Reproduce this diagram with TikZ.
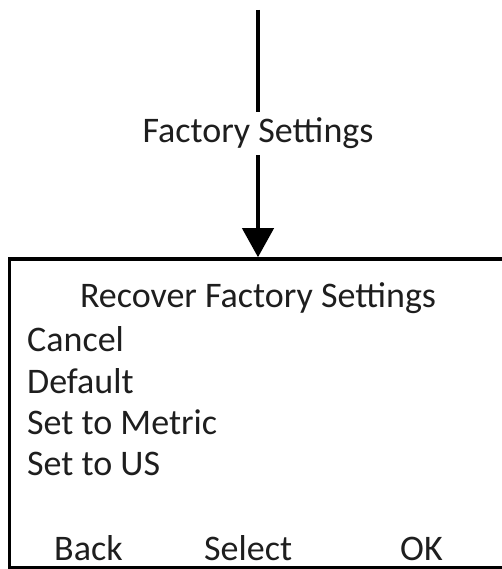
\documentclass[tikz,border=0pt]{standalone}
\usepackage{fontspec}
\setmainfont{Carlito}
\usepackage{tikz}
\usetikzlibrary{positioning,arrows.meta}
\definecolor{ink}{HTML}{1E1E1E}
\tikzset{
  every node/.style={font=\fontsize{36}{42}\selectfont, text=ink},
  % --- nodes
  screen/.style = {draw=black, line width=3.5pt, minimum width=497pt,
                   minimum height=309pt, inner sep=0pt},
  vlabel/.style = {fill=white, inner sep=6pt},
  item/.style   = {anchor=base west, inner sep=0pt},
  % --- edges
  e/.style      = {-{Triangle[width=31pt,length=29pt]}, line width=4pt, draw=black},
}

\begin{document}
\begin{tikzpicture}[x=1pt,y=1pt]
  \useasboundingbox (0,0) rectangle (502,569);
  \node[screen] (menu) at (258,155.5) {};
  \coordinate (src) at (258,559);
  \draw[e] (src) -- node[vlabel] (lbl) {Factory Settings} (menu.north);

  \node[anchor=base, inner sep=0pt] (title) at (258,261) {Recover Factory Settings};
  \foreach \t [count=\i] in {Cancel,Default,Set to Metric,Set to US}
    \node[item] (item\i) at (27,{258.3-41.3*\i}) {\t};

  \node[item] (back) at (54,9) {Back};
  \node[item] (select) at (204,9) {Select};
  \node[item] (ok) at (400,9) {OK};
\end{tikzpicture}
\end{document}
